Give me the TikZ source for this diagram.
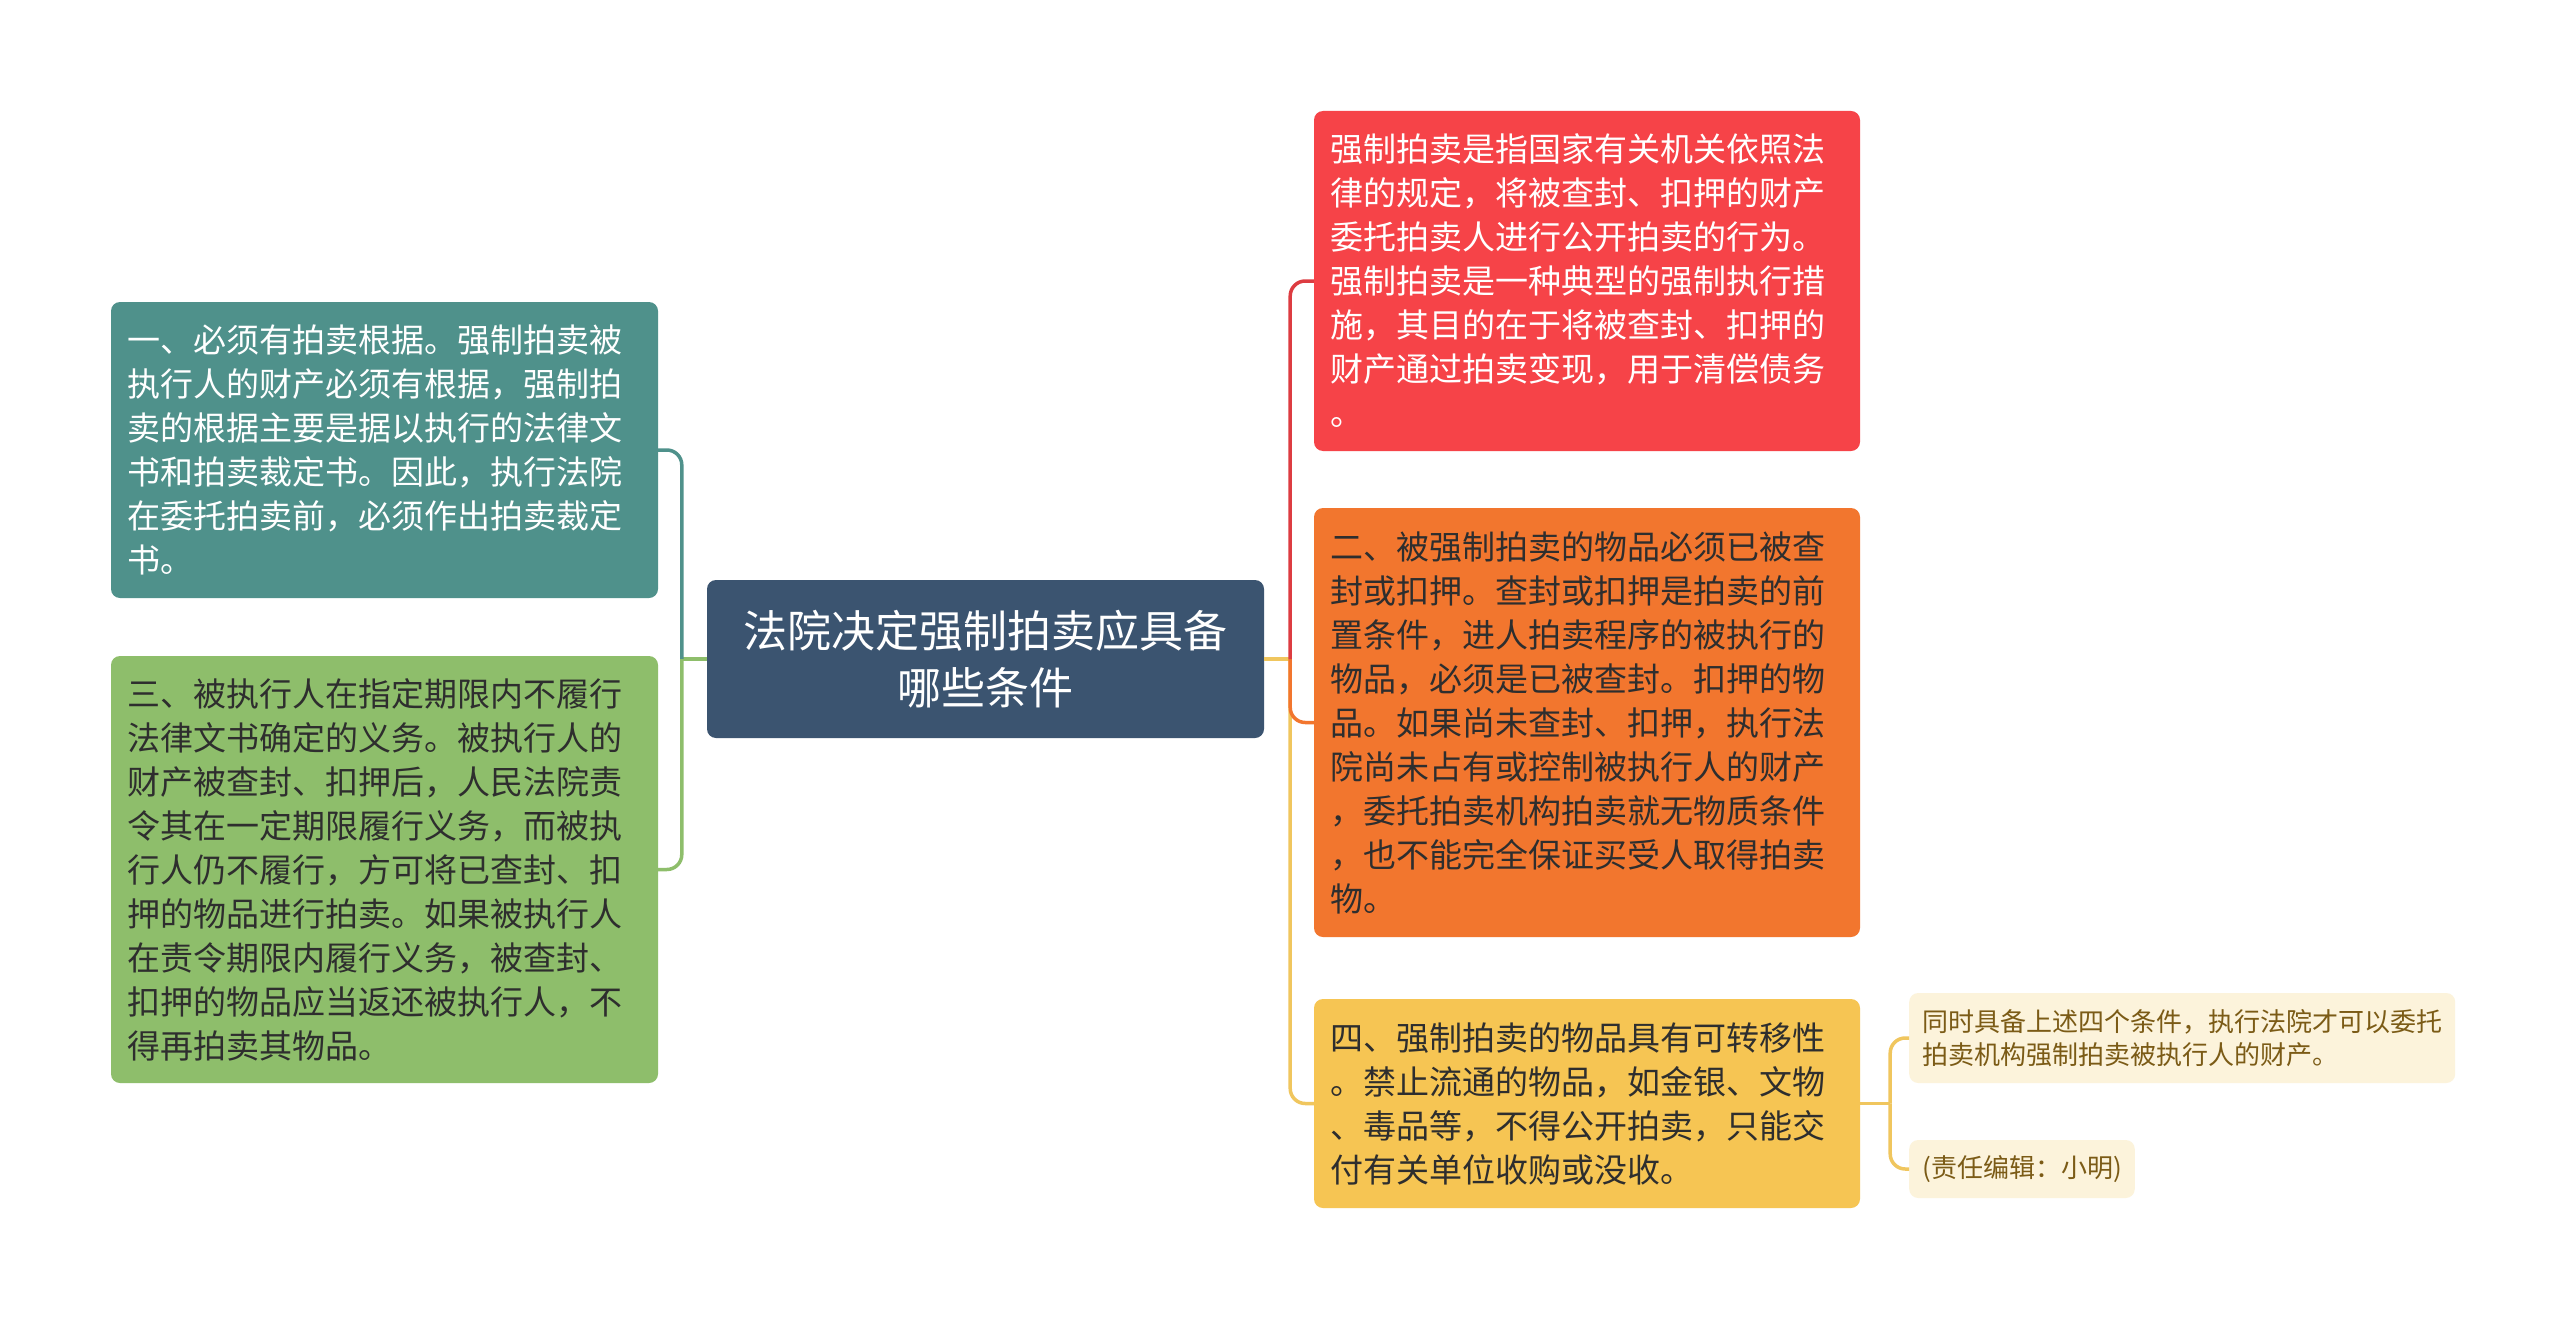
\documentclass[tikz,border=0pt]{standalone}
\usepackage{fontspec}
\newfontfamily\cjk{Noto Sans CJK SC}
\usetikzlibrary{calc}

\definecolor{rootfill}{HTML}{3B5470}
\definecolor{tealfill}{HTML}{4F918B}
\definecolor{greenfill}{HTML}{8EBE6B}
\definecolor{redfill}{HTML}{F64348}
\definecolor{orangefill}{HTML}{F2762E}
\definecolor{yellowfill}{HTML}{F6C553}
\definecolor{notefill}{HTML}{FCF3DB}
\definecolor{darktext}{HTML}{2E2E2E}
\definecolor{notetext}{HTML}{7B5B16}
\definecolor{yellowline}{HTML}{F0C65E}

\begin{document}
\begin{tikzpicture}[x=1pt,y=-1pt,
  box/.style={rounded corners=9pt, inner sep=0pt, align=left,
    font=\cjk\fontsize{33}{44}\selectfont},
  notebox/.style={rounded corners=9pt, fill=notefill, text=notetext, inner xsep=13pt,
    inner ysep=0pt, align=left, anchor=west, font=\cjk\fontsize{26}{33}\selectfont},
  link/.style={line width=3.5pt},
  elbow/.style={link, rounded corners=15pt}]

\fill[white] (0,0) rectangle (2560,1319);
\useasboundingbox (0,0) rectangle (2560,1319);

% centre
\node[box, fill=rootfill, text=white, align=center, minimum width=557pt, minimum height=158pt,
  font=\cjk\fontsize{44}{57}\selectfont] (root) at (985.5,659) {法院决定强制拍卖应具备\\哪些条件};

% left side
\node[box, fill=tealfill, text=white, text width=515pt, minimum width=547pt, minimum height=296pt]
  (cond1) at (384.5,450) {一、必须有拍卖根据。强制拍卖被\\执行人的财产必须有根据，强制拍\\卖的根据主要是据以执行的法律文\\书和拍卖裁定书。因此，执行法院\\在委托拍卖前，必须作出拍卖裁定\\书。};
\node[box, fill=greenfill, text=darktext, text width=515pt, minimum width=547pt, minimum height=427pt]
  (cond3) at (384.5,869.5) {三、被执行人在指定期限内不履行\\法律文书确定的义务。被执行人的\\财产被查封、扣押后，人民法院责\\令其在一定期限履行义务，而被执\\行人仍不履行，方可将已查封、扣\\押的物品进行拍卖。如果被执行人\\在责令期限内履行义务，被查封、\\扣押的物品应当返还被执行人，不\\得再拍卖其物品。};

% right side
\node[box, fill=redfill, text=white, text width=514pt, minimum width=546pt, minimum height=340pt]
  (intro) at (1587,281) {强制拍卖是指国家有关机关依照法\\律的规定，将被查封、扣押的财产\\委托拍卖人进行公开拍卖的行为。\\强制拍卖是一种典型的强制执行措\\施，其目的在于将被查封、扣押的\\财产通过拍卖变现，用于清偿债务\\。};
\node[box, fill=orangefill, text=darktext, text width=514pt, minimum width=546pt, minimum height=429pt]
  (cond2) at (1587,722.5) {二、被强制拍卖的物品必须已被查\\封或扣押。查封或扣押是拍卖的前\\置条件，进人拍卖程序的被执行的\\物品，必须是已被查封。扣押的物\\品。如果尚未查封、扣押，执行法\\院尚未占有或控制被执行人的财产\\，委托拍卖机构拍卖就无物质条件\\，也不能完全保证买受人取得拍卖\\物。};
\node[box, fill=yellowfill, text=darktext, text width=514pt, minimum width=546pt, minimum height=209pt]
  (cond4) at (1587,1103.5) {四、强制拍卖的物品具有可转移性\\。禁止流通的物品，如金银、文物\\、毒品等，不得公开拍卖，只能交\\付有关单位收购或没收。};

% notes
\node[notebox, minimum height=90pt] (summary) at (1909,1038) {同时具备上述四个条件，执行法院才可以委托\\拍卖机构强制拍卖被执行人的财产。};
\node[notebox, minimum height=58pt] (editor) at (1909,1169) {(责任编辑：小明)};

% connectors
\coordinate (jl) at ([xshift=-25pt]root.west);
\coordinate (jr) at ([xshift=26pt]root.east);
\coordinate (jy) at ([xshift=30pt]cond4.east);

\draw[link, greenfill] (root.west) -- (jl);
\draw[elbow, tealfill] (jl) |- (cond1.east);
\draw[elbow, greenfill] (jl) |- (cond3.east);

\draw[link, yellowline] (root.east) -- (jr);
\draw[elbow, yellowline] (jr) |- (cond4.west);
\draw[elbow, orangefill] (jr) |- (cond2.west);
\draw[elbow, redfill!90!black] (jr) |- (intro.west);

\draw[link, yellowline] (cond4.east) -- (jy);
\draw[elbow, yellowline] (jy) |- (summary.west);
\draw[elbow, yellowline] (jy) |- (editor.west);
\end{tikzpicture}
\end{document}
